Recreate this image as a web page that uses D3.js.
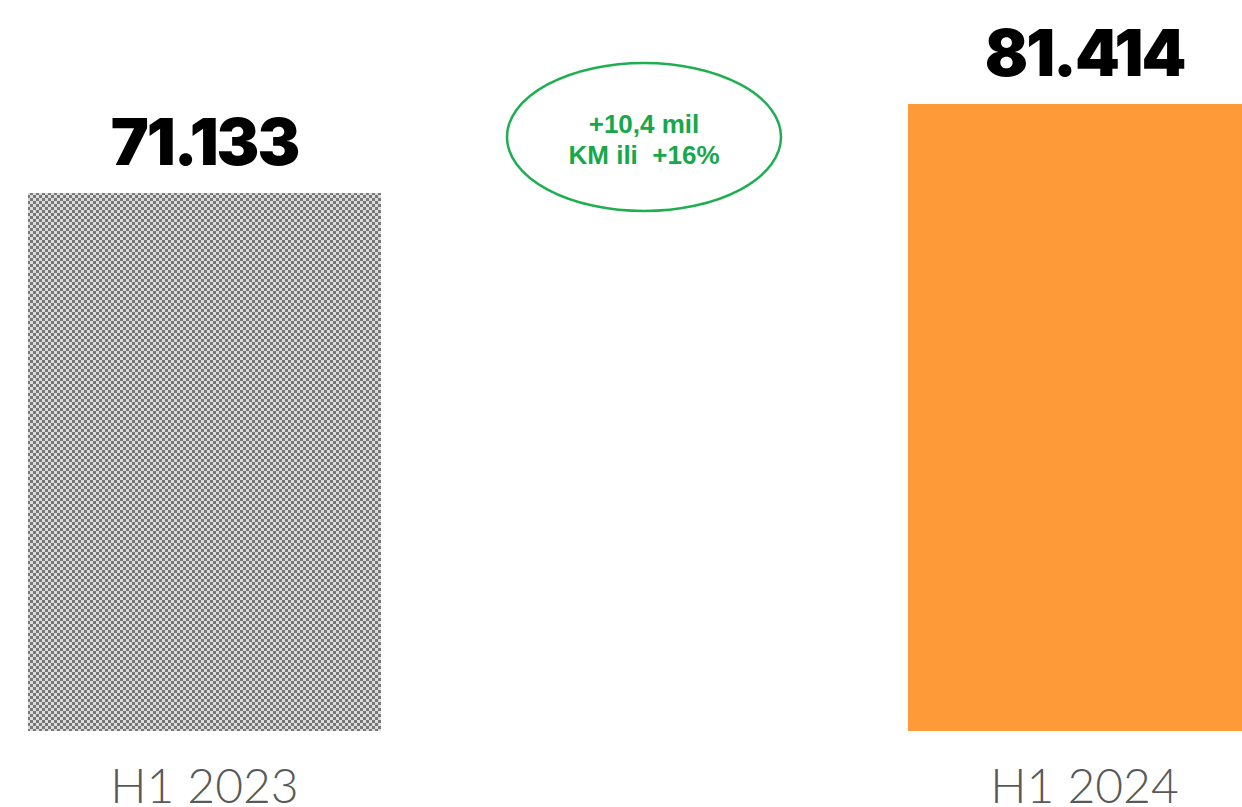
<!DOCTYPE html>
<html>
<head>
<meta charset="utf-8">
<script src="https://cdn.jsdelivr.net/npm/d3@7"></script>
<style>
  html, body { margin: 0; padding: 0; background: #fff; overflow: hidden; }
</style>
</head>
<body>
<script>
// data
var categories = ['H1 2023', 'H1 2024'];
var values = [71133, 81414];
var valueLabels = ['71.133', '81.414'];
var noteLines = ['+10,4 mil', 'KM ili  +16%'];

var width = 1242, height = 807;
var baseY = 731, topY = 104;

var svg = d3.select('body').append('svg')
  .attr('width', width)
  .attr('height', height);

var defs = svg.append('defs');
var pat = defs.append('pattern')
  .attr('id', 'checker')
  .attr('patternUnits', 'userSpaceOnUse')
  .attr('width', 6).attr('height', 6);
pat.append('rect').attr('width', 6).attr('height', 6).attr('fill', '#dcdcdc');
pat.append('rect').attr('width', 3).attr('height', 3).attr('fill', '#777');
pat.append('rect').attr('x', 3).attr('y', 3).attr('width', 3).attr('height', 3).attr('fill', '#777');

// x band scale, second bar runs off the right edge like the original
var x = d3.scaleBand()
  .domain(categories)
  .range([28, 1261])
  .paddingInner(0.5989)
  .paddingOuter(0);

// value axis does not start at zero in the source
var y = d3.scaleLinear()
  .domain([9000, d3.max(values)])
  .range([baseY, topY]);

var fills = ['url(#checker)', '#ff9a38'];

svg.selectAll('rect.bar')
  .data(values)
  .enter()
  .append('rect')
  .attr('class', 'bar')
  .attr('x', function(d, i) { return x(categories[i]); })
  .attr('y', function(d) { return y(d); })
  .attr('width', x.bandwidth())
  .attr('height', function(d) { return baseY - y(d); })
  .attr('fill', function(d, i) { return fills[i]; });

// value labels
svg.selectAll('text.val')
  .data(values)
  .enter()
  .append('text')
  .attr('class', 'val')
  .attr('x', function(d, i) { return x(categories[i]) + x.bandwidth() / 2; })
  .attr('y', function(d) { return y(d) - 28; })
  .attr('text-anchor', 'middle')
  .attr('font-family', 'Inter, "Liberation Sans", sans-serif')
  .attr('font-weight', 900)
  .attr('font-size', 64)
  .attr('letter-spacing', -2)
  .attr('fill', '#000')
  .text(function(d, i) { return valueLabels[i]; });

// category labels
svg.selectAll('text.cat')
  .data(categories)
  .enter()
  .append('text')
  .attr('class', 'cat')
  .attr('x', function(d) { return x(d) + x.bandwidth() / 2; })
  .attr('y', 803)
  .attr('text-anchor', 'middle')
  .attr('font-family', 'Lato, "Open Sans", sans-serif')
  .attr('font-weight', 300)
  .attr('font-size', 48)
  .attr('fill', '#595959')
  .text(function(d) { return d; });

// growth note
var note = svg.append('g').attr('transform', 'translate(644,137)');
note.append('ellipse')
  .attr('rx', 137).attr('ry', 74)
  .attr('fill', 'none')
  .attr('stroke', '#1fae50')
  .attr('stroke-width', 2.5);
note.selectAll('text')
  .data(noteLines)
  .enter()
  .append('text')
  .attr('x', 0)
  .attr('y', function(d, i) { return -4 + i * 31; })
  .attr('text-anchor', 'middle')
  .attr('font-family', '"Liberation Sans", Arial, sans-serif')
  .attr('font-weight', 'bold')
  .attr('font-size', 26)
  .attr('fill', '#16a84a')
  .attr('xml:space', 'preserve')
  .style('white-space', 'pre')
  .text(function(d) { return d; });
</script>
</body>
</html>
